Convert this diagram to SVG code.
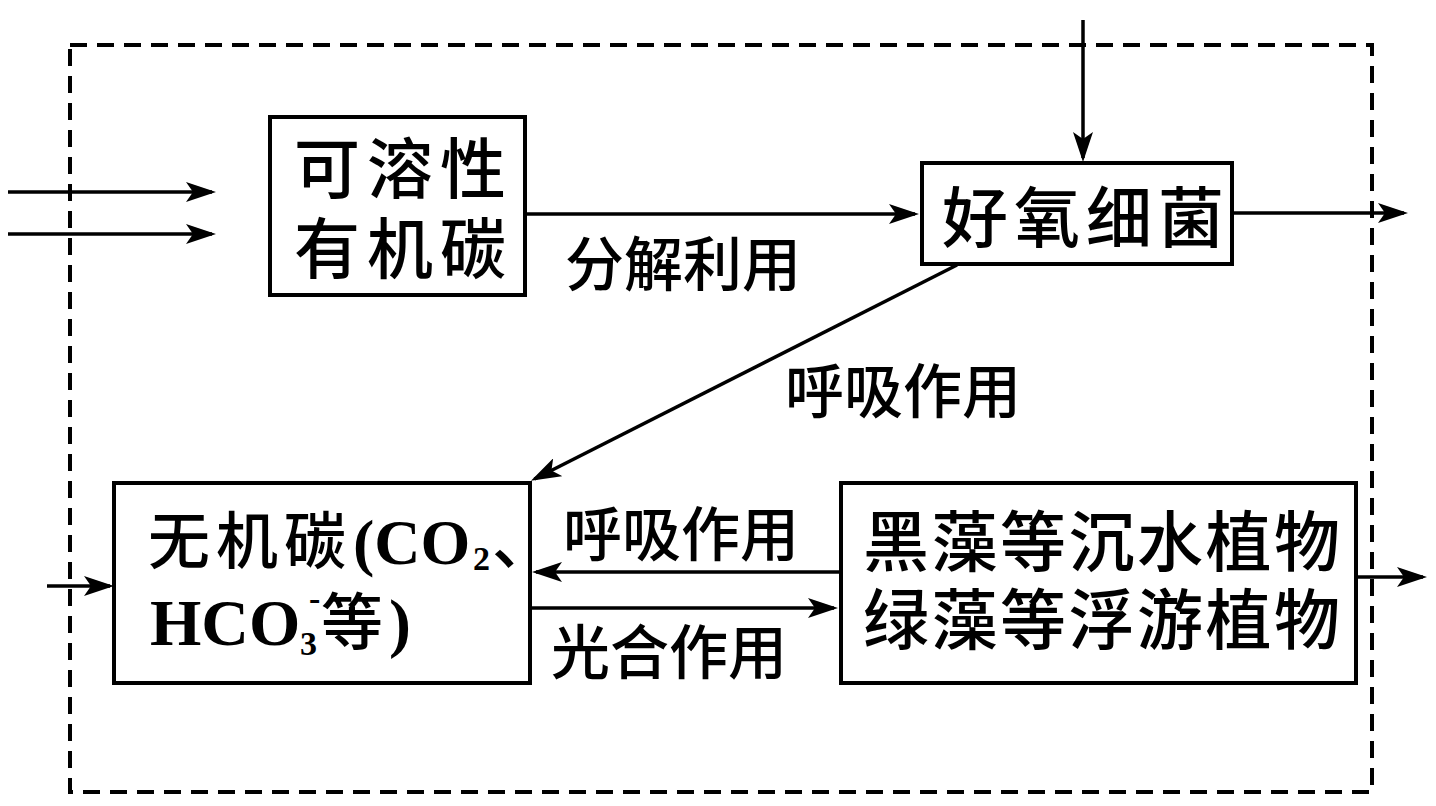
<svg xmlns="http://www.w3.org/2000/svg" width="1436" height="806" viewBox="0 0 1436 806">
  <style>
    .box { fill: #fff; stroke: #000; stroke-width: 4; }
    .cn { font-family: "Noto Sans CJK SC", sans-serif; font-weight: 500; fill: #000; }
    .node { font-size: 66px; }
    .lbl { font-size: 59px; }
    .lat { font-family: "Liberation Serif", serif; font-weight: bold; fill: #000; }
    .con { stroke: #000; stroke-width: 3.5; fill: none; marker-end: url(#arr); }
    .frame { fill: none; stroke: #000; stroke-width: 4; stroke-dasharray: 17 10; }
  </style>
  <defs>
    <marker id="arr" markerUnits="userSpaceOnUse" viewBox="0 0 30 20" refX="26" refY="10" markerWidth="30" markerHeight="20" orient="auto">
      <path d="M0,0 L30,10 L0,20 L7,10 Z" fill="#000"/>
    </marker>
  </defs>
  <rect width="1436" height="806" fill="#fff"/>

  <g id="frame">
    <rect class="frame" x="70" y="45" width="1302" height="747"/>
  </g>

  <g id="connectors">
    <line class="con" x1="8" y1="192" x2="212" y2="192"/>
    <line class="con" x1="8" y1="234" x2="212" y2="234"/>
    <line class="con" x1="527" y1="214" x2="915" y2="214"/>
    <line class="con" x1="1083" y1="20" x2="1083" y2="158"/>
    <line class="con" x1="1232" y1="213" x2="1404" y2="213"/>
    <line class="con" x1="957" y1="265" x2="534.5" y2="479"/>
    <line class="con" x1="47" y1="586" x2="110" y2="586"/>
    <line class="con" x1="841" y1="572" x2="536" y2="572"/>
    <line class="con" x1="530" y1="608" x2="834" y2="608"/>
    <line class="con" x1="1356" y1="577" x2="1423" y2="577"/>
  </g>

  <g id="labels">
    <text class="cn lbl" x="565" y="286">分解利用</text>
    <text class="cn lbl" x="785" y="413">呼吸作用</text>
    <text class="cn lbl" x="563" y="556">呼吸作用</text>
    <text class="cn lbl" x="551" y="674">光合作用</text>
  </g>

  <g id="node-soluble">
    <rect class="box" x="270" y="117" width="255" height="178"/>
    <text class="cn node" x="294" y="193" letter-spacing="7">可溶性</text>
    <text class="cn node" x="294" y="273" letter-spacing="7">有机碳</text>
  </g>

  <g id="node-bacteria">
    <rect class="box" x="922" y="163" width="310" height="101"/>
    <text class="cn node" x="942" y="242" letter-spacing="6">好氧细菌</text>
  </g>

  <g id="node-inorganic">
    <rect class="box" x="114" y="483" width="416" height="200"/>
    <text y="564"><tspan class="cn" font-size="62" x="148" letter-spacing="6">无机碳</tspan><tspan class="lat" font-size="64" x="353">(CO</tspan><tspan class="lat" font-size="34" x="473" y="570">2</tspan><tspan class="cn" font-size="62" x="492" y="564">、</tspan></text>
    <text y="645"><tspan class="lat" font-size="66" x="150">HCO</tspan><tspan class="lat" font-size="34" x="300" y="655">3</tspan><tspan class="lat" font-size="34" x="309" y="610">-</tspan><tspan class="cn" font-size="62" x="321" y="645">等</tspan><tspan class="lat" font-size="66" x="389" y="645">)</tspan></text>
  </g>

  <g id="node-plants">
    <rect class="box" x="841" y="483" width="515" height="200"/>
    <text class="cn node" x="863" y="566" letter-spacing="2.5">黑藻等沉水植物</text>
    <text class="cn node" x="863" y="644" letter-spacing="2.5">绿藻等浮游植物</text>
  </g>
</svg>
